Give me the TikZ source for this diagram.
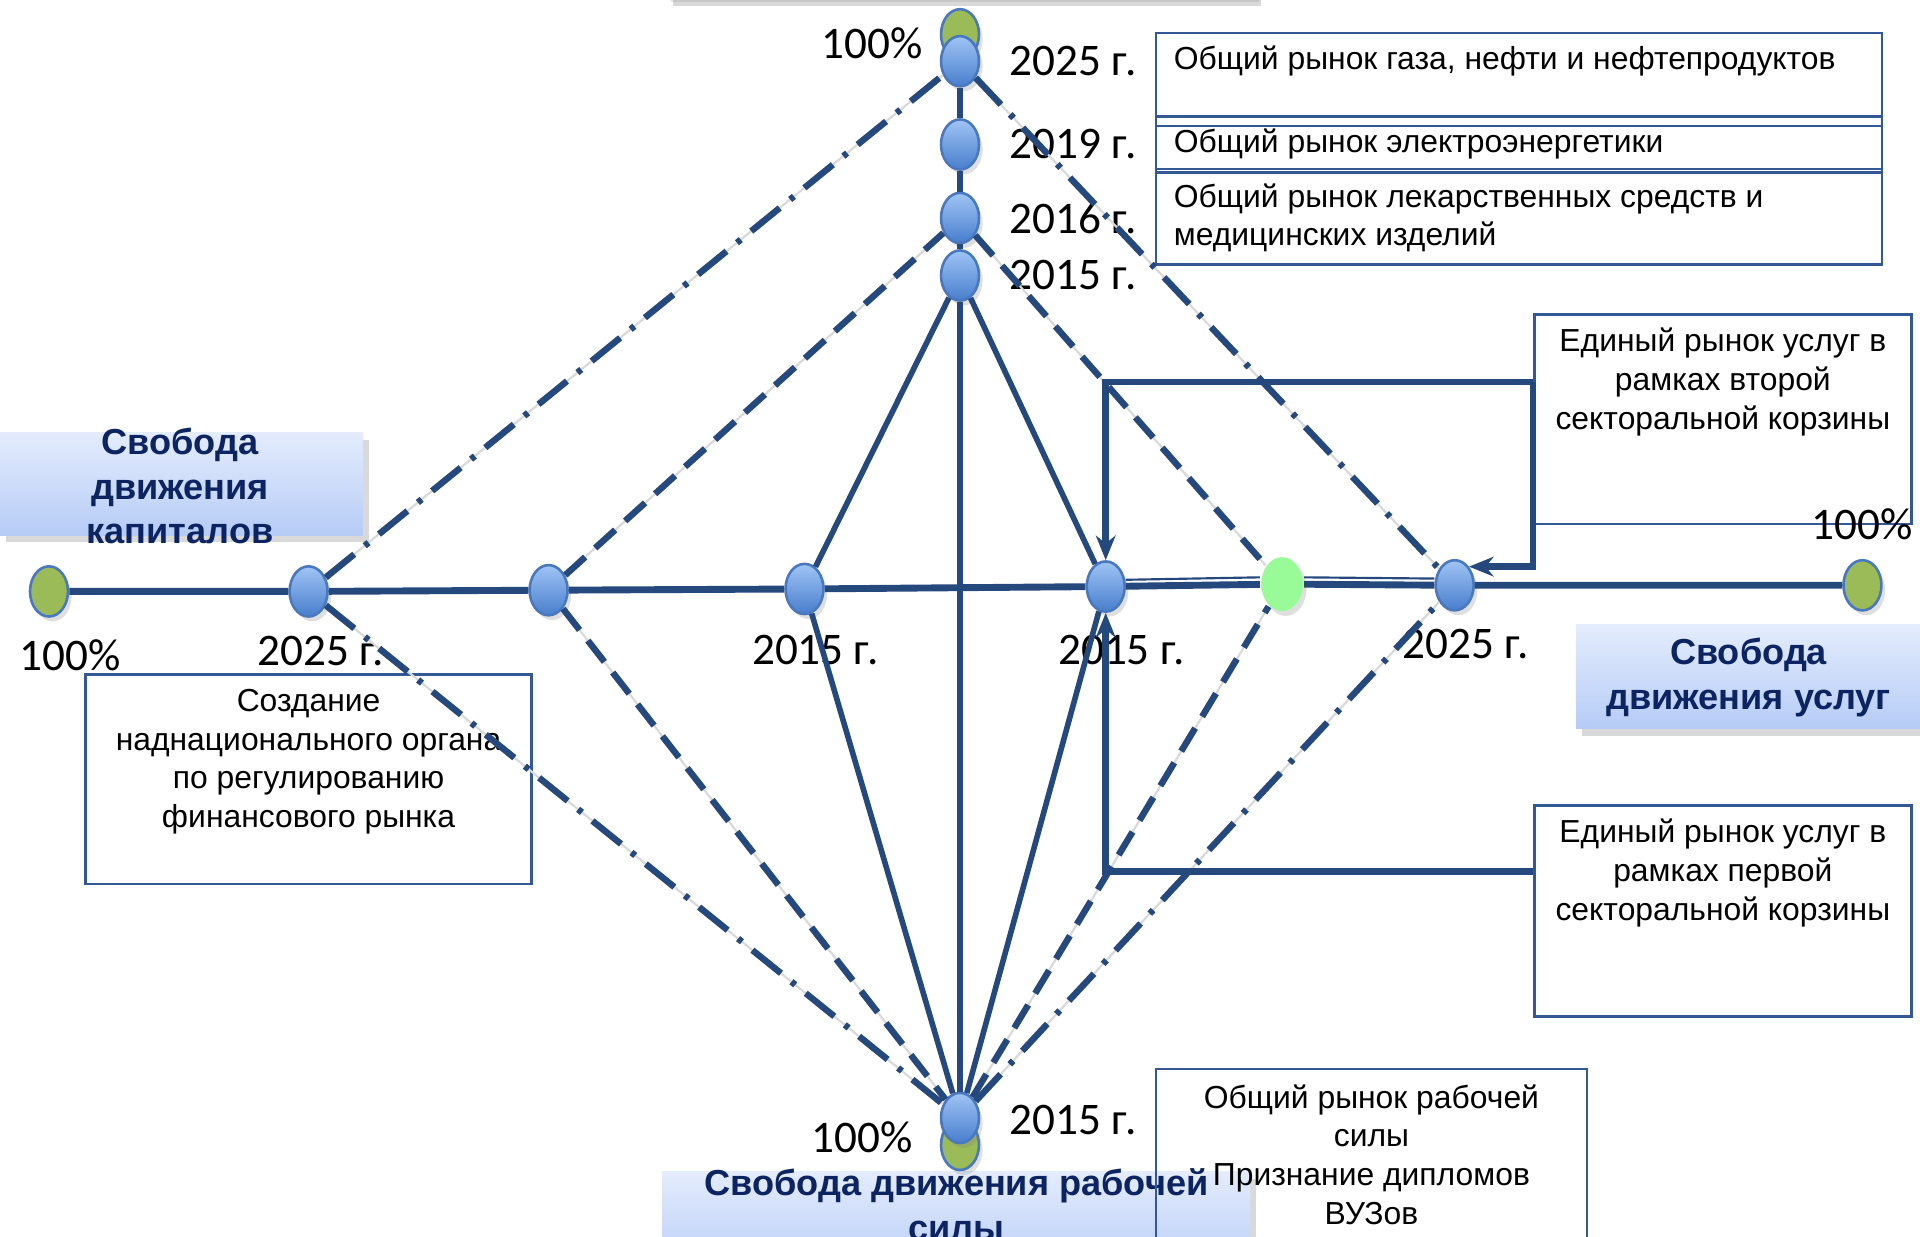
\documentclass[tikz,border=0pt]{standalone}
\usepackage{fontspec}
\setmainfont{Carlito}
\newfontfamily\arialfont{Liberation Sans}
\usetikzlibrary{shapes.geometric,arrows.meta,shadows,positioning}
\definecolor{lineblue}{RGB}{37,72,125}
\definecolor{boxblue}{RGB}{52,88,148}
\definecolor{titleblue}{RGB}{12,36,97}
\definecolor{nodetop}{RGB}{160,196,245}
\definecolor{nodebot}{RGB}{72,126,205}
\definecolor{nodeedge}{RGB}{74,120,190}
\definecolor{goalgreen}{RGB}{155,187,89}
\definecolor{mint}{RGB}{152,251,152}
\definecolor{gradtop}{RGB}{228,236,253}
\definecolor{gradbot}{RGB}{182,204,246}
\tikzset{
  stage/.style={ellipse, draw=nodeedge, line width=0.6pt, minimum width=3.1mm, minimum height=4.1mm, inner sep=0pt, top color=nodetop, bottom color=nodebot, drop shadow={opacity=0.25, shadow xshift=0.3mm, shadow yshift=-0.4mm}},
  goal/.style={stage, top color=goalgreen, bottom color=goalgreen},
  axis/.style={lineblue, line width=1.6pt},
  spoke/.style={lineblue, line width=1.3pt},
  dashspoke/.style={spoke, line width=1.5pt, dash pattern=on 2.2mm off 1.1mm, preaction={draw=gray!30, line width=0.5pt, solid}},
  dotspoke/.style={spoke, line width=1.5pt, dash pattern=on 3mm off 1.1mm on 0.4mm off 1.1mm, preaction={draw=gray!30, line width=0.5pt, solid}},
  bracket/.style={lineblue, line width=1.6pt, -{Stealth[length=2mm, width=1.6mm]}},
  infobox/.style={draw=boxblue, line width=0.6pt, inner sep=0pt},
  boxtext/.style={font=\arialfont\fontsize{7.4}{9}\selectfont, align=center, inner sep=0pt},
  yearlbl/.style={font=\fontsize{10.5}{12}\selectfont, inner sep=0pt},
  titlebox/.style={top color=gradtop, bottom color=gradbot, drop shadow={opacity=0.3, shadow xshift=0.5mm, shadow yshift=-0.6mm}},
  titletext/.style={font=\arialfont\bfseries\fontsize{8.4}{10.4}\selectfont, text=titleblue, align=center, inner sep=0pt}
}
\begin{document}
\begin{tikzpicture}[x=0.1mm, y=-0.1mm]
\useasboundingbox (0,0) rectangle (1568,1010);
\path[titlebox, drop shadow={opacity=0.2, shadow xshift=0.3mm, shadow yshift=-0.3mm}] (545,-80) rectangle (1025,-1);
\path[titlebox] (0,353) rectangle (296,437);
\path[titlebox] (1287,510) rectangle (1568,595);
\path[titlebox] (541,957) rectangle (1021,1040);
\node[titletext] at (147,397) {Свобода\\движения\\капиталов};
\node[titletext] at (1428,553) {Свобода\\движения услуг};
\node[titletext] at (781,984) {Свобода движения рабочей\\силы};

\node[infobox, minimum width=59.3mm, minimum height=7.6mm] (gas) at (1240.5,65) {};
\node[infobox, minimum width=59.3mm, minimum height=4.6mm] (power) at (1240.5,118) {};
\node[infobox, minimum width=59.3mm, minimum height=7.8mm] (pharma) at (1240.5,177) {};
\node[infobox, minimum width=30.8mm, minimum height=17.1mm] (second) at (1407,342.5) {};
\node[infobox, minimum width=30.8mm, minimum height=17.2mm] (first) at (1407,744) {};
\node[infobox, minimum width=36.4mm, minimum height=17.1mm] (fin) at (252,636.5) {};
\node[infobox, minimum width=35.2mm, minimum height=14mm] (labour) at (1120,943) {};
\node[boxtext, anchor=west] at (958,50) {Общий рынок газа, нефти и нефтепродуктов};
\node[boxtext, anchor=west] at (958,118) {Общий рынок электроэнергетики};
\node[boxtext, anchor=west, align=left] at (958,178) {Общий рынок лекарственных средств и\\медицинских изделий};
\node[boxtext] at (1407,312) {Единый рынок услуг в\\рамках второй\\секторальной корзины};
\node[boxtext] at (1407,713) {Единый рынок услуг в\\рамках первой\\секторальной корзины};
\node[boxtext] at (252,622) {Создание\\наднационального органа\\по регулированию\\финансового рынка};
\node[boxtext] at (labour) {Общий рынок рабочей\\силы\\Признание дипломов\\ВУЗов};

\node[goal] (tg) at (784,28) {};
\node[stage] (t25) at (784,50) {};
\node[stage] (t19) at (784,118) {};
\node[stage] (t16) at (784,178) {};
\node[stage] (t15) at (784,225) {};
\node[goal] (bg) at (784,935) {};
\node[stage] (b15) at (784,913) {};
\node[goal] (lg) at (40,483) {};
\node[stage] (l25) at (252,483) {};
\node[stage] (lx) at (448,482) {};
\node[stage] (l15) at (657,481) {};
\node[stage] (r15) at (903,479) {};
\node[goal, top color=mint, bottom color=mint, draw=none, minimum width=3.4mm, minimum height=4.4mm] (rl) at (1047,477) {};
\node[stage] (r25) at (1188,478) {};
\node[goal] (rg) at (1521,478) {};

\node[yearlbl] at (712,35) {100\%};
\node[yearlbl, anchor=west] at (824,50) {2025 г.};
\node[yearlbl, anchor=west] at (824,118) {2019 г.};
\node[yearlbl, anchor=west] at (824,178) {2016 г.};
\node[yearlbl, anchor=west] at (824,225) {2015 г.};
\node[yearlbl] at (57,535) {100\%};
\node[yearlbl] at (262,532) {2025 г.};
\node[yearlbl] at (666,531) {2015 г.};
\node[yearlbl] at (916,531) {2015 г.};
\node[yearlbl] at (1197,526) {2025 г.};
\node[yearlbl] at (1521,428) {100\%};
\node[yearlbl] at (704,929) {100\%};
\node[yearlbl, anchor=west] at (824,915) {2015 г.};

\draw[axis] (lg) -- (l25) -- (lx) -- (l15) -- (r15) -- (rl) -- (r25) -- (rg);
\draw[lineblue, line width=0.5pt] ([yshift=0.55mm]r15.east) -- ([yshift=0.55mm]rl.west) ([yshift=0.55mm]rl.east) -- ([yshift=0.55mm]r25.west);
\draw[spoke] (t25) -- (t19) -- (t16) -- (t15) -- (b15);
\draw[spoke] (l15) -- (t15) -- (r15);
\draw[spoke] (l15) -- (b15) -- (r15);
\draw[dashspoke] (lx) -- (t16) -- (rl);
\draw[dashspoke] (lx) -- (b15) -- (rl);
\draw[dotspoke] (l25) -- (t25) -- (r25);
\draw[dotspoke] (l25) -- (b15) -- (r25);

\coordinate (kD) at ([yshift=-5.6mm]second.north west);
\coordinate (kE) at ([yshift=-5.5mm]first.north west);
\draw[bracket] (kD) -- (kD -| r15) -- (r15.north);
\draw[bracket] (kD) |- (r25.north east);
\draw[bracket] (kE) -| (r15.south);
\end{tikzpicture}
\end{document}
